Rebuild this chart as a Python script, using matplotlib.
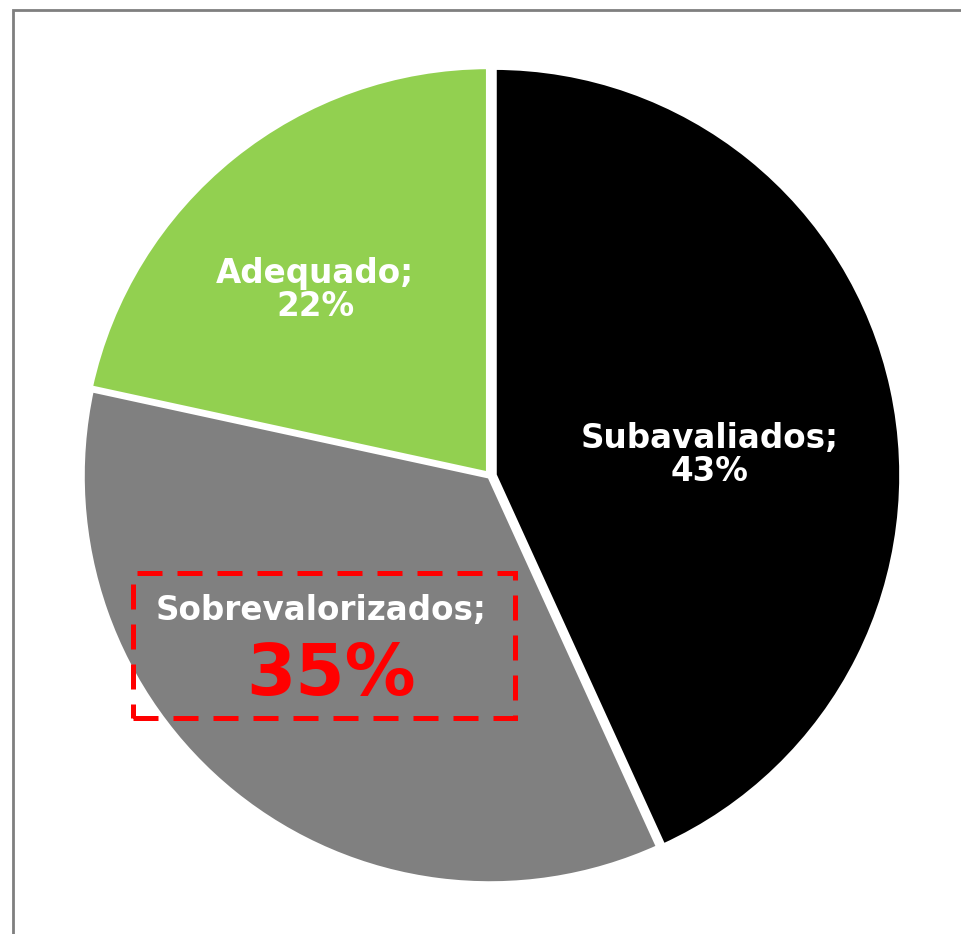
import matplotlib
matplotlib.use("Agg")
import matplotlib.pyplot as plt
from matplotlib.patches import Rectangle

labels = ["Subavaliados", "Sobrevalorizados", "Adequado"]
shares = [43.2, 35.2, 21.6]      # slice sizes
shown = [43, 35, 22]             # rounded figures printed on the chart
colors = ["#000000", "#808080", "#92D050"]
explode = [0.01, 0, 0.005]

W, H = 962, 934
cx, cy, r = 490, 476, 408  # pie centre / radius in pixels


def to_data(px, py):
    return (px - cx) / r, (cy - py) / r


fig = plt.figure(figsize=(W / 100, H / 100), dpi=100)
# gray frame, cut off at right and bottom like the source
fig.patches.append(Rectangle((12.5 / W, -0.1), 1.2, 1 - 9.5 / H + 0.1,
                             transform=fig.transFigure, fill=False,
                             edgecolor="#7f7f7f", lw=2))

ax = fig.add_axes([(cx - r) / W, (H - cy - r) / H, 2 * r / W, 2 * r / H])
wedges, _ = ax.pie(shares, colors=colors, startangle=90, counterclock=False,
                   explode=explode, radius=1,
                   wedgeprops=dict(edgecolor="white", linewidth=4))
for w in wedges:
    w.set_clip_on(False)
ax.set_xlim(-1, 1)
ax.set_ylim(-1, 1)
ax.axis("off")

# labels
x, y = to_data(710, 455)
ax.text(x, y, f"{labels[0]};\n{shown[0]}%", ha="center", va="center",
        color="white", fontsize=23.5, fontweight="bold", linespacing=1.0)
x, y = to_data(315, 290)
ax.text(x, y, f"{labels[2]};\n{shown[2]}%", ha="center", va="center",
        color="white", fontsize=23.5, fontweight="bold", linespacing=1.0)
x, y = to_data(321, 610)
ax.text(x, y, f"{labels[1]};", ha="center", va="center",
        color="white", fontsize=23.5, fontweight="bold")
x, y = to_data(331, 676)
ax.text(x, y, f"{shown[1]}%", ha="center", va="center",
        color="red", fontsize=51, fontweight="bold")

# highlight box
x0, y0 = to_data(133, 718)
x1, y1 = to_data(515, 573)
ax.add_patch(Rectangle((x0, y0), x1 - x0, y1 - y0, fill=False,
                       edgecolor="red", lw=3.6, linestyle=(0, (5, 3)),
                       clip_on=False, zorder=5))

fig.savefig("out.png", dpi=100)
